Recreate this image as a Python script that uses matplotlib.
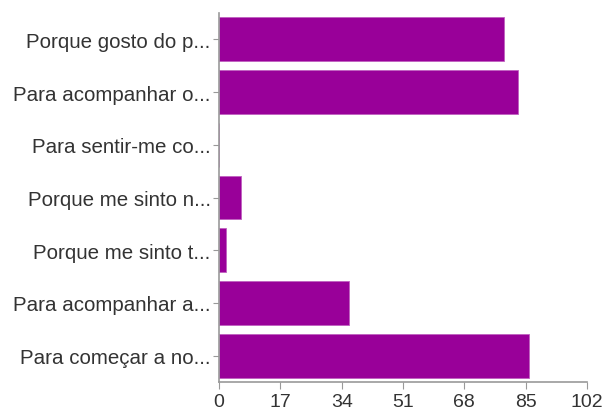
import matplotlib
matplotlib.use("Agg")
import matplotlib.pyplot as plt

categories = [
    "Porque gosto do p...",
    "Para acompanhar o...",
    "Para sentir-me co...",
    "Porque me sinto n...",
    "Porque me sinto t...",
    "Para acompanhar a...",
    "Para começar a no...",
]
values = [79, 83, 0, 6, 2, 36, 86]
xticks = [0, 17, 34, 51, 68, 85, 102]

plt.rcParams['font.family'] = ['Liberation Sans', 'DejaVu Sans']

fig = plt.figure(figsize=(6.05, 4.10), dpi=100)
ax = fig.add_axes([219/605, 1 - 383/410, (587-219)/605, (383-14)/410])

ypos = list(range(len(categories)))
ax.barh(ypos, values, height=0.83, color="#990099", edgecolor="#c060c0", linewidth=0.6)
ax.set_ylim(len(categories) - 0.5, -0.5)
ax.set_xlim(0, 102)
ax.set_xticks(xticks)
ax.set_xticklabels([str(t) for t in xticks], fontsize=14, color="#333333")
ax.set_yticks(ypos)
ax.set_yticklabels(categories, fontsize=14.8, color="#333333")

for s in ["top", "right"]:
    ax.spines[s].set_visible(False)
for s in ["left", "bottom"]:
    ax.spines[s].set_color("#999999")
    ax.spines[s].set_linewidth(1.2)
ax.tick_params(axis="x", length=5, color="#999999", pad=3)
ax.tick_params(axis="y", length=4, color="#999999", pad=2)

fig.savefig("out.png", dpi=100)
